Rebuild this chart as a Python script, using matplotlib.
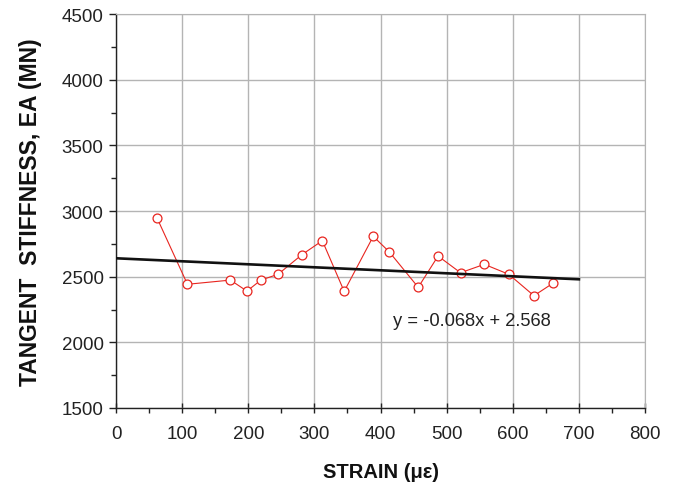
import matplotlib.pyplot as plt
from matplotlib.ticker import MultipleLocator

plt.rcParams['font.family'] = ['Liberation Sans', 'DejaVu Sans']

# tangent stiffness readings vs strain
strain = [62, 108, 173, 198, 219, 245, 281, 312, 345, 389, 413,
          457, 487, 521, 557, 594, 632, 661]
stiffness = [2947, 2442, 2474, 2390, 2474, 2518, 2667, 2774, 2388, 2807, 2690,
             2419, 2657, 2530, 2594, 2518, 2355, 2451]

# linear trend
trend_x = [0, 700]
trend_y = [2640, 2480]
trend_label = 'y = -0.068x + 2.568'

fig = plt.figure(figsize=(6.75, 4.89), dpi=100)
ax = fig.add_axes([0.1719, 0.1636, 0.7837, 0.8057])

ax.plot(strain, stiffness, color='#e8251f', lw=0.8, marker='o', ms=6.4,
        mfc='white', mec='#e8251f', mew=0.9, zorder=3)
ax.plot(trend_x, trend_y, color='#111111', lw=1.9, zorder=4)
ax.text(419, 2165, trend_label, fontsize=13.2, va='center', ha='left',
        color='#222222')

ax.set_xlim(0, 800)
ax.set_ylim(1500, 4500)
ax.xaxis.set_major_locator(MultipleLocator(100))
ax.xaxis.set_minor_locator(MultipleLocator(50))
ax.yaxis.set_major_locator(MultipleLocator(500))
ax.yaxis.set_minor_locator(MultipleLocator(250))

ax.grid(True, which='major', color='#b4b4b4', lw=1.0)
ax.set_axisbelow(True)
for s in ['top', 'right']:
    ax.spines[s].set_color('#b4b4b4')
for s in ['left', 'bottom']:
    ax.spines[s].set_color('#222222')
    ax.spines[s].set_linewidth(1.0)

ax.tick_params(which='both', width=1.0, colors='#222222', labelsize=13.5)
ax.tick_params(axis='y', which='major', direction='out', length=5, pad=4)
ax.tick_params(axis='y', which='minor', direction='out', length=3.5)
ax.tick_params(axis='x', which='major', direction='inout', length=7, pad=9)
ax.tick_params(axis='x', which='minor', direction='out', length=3.5)

ax.set_xlabel('STRAIN (με)', fontsize=14.5, fontweight='bold', labelpad=14,
              color='#111111')
ax.set_ylabel('TANGENT  STIFFNESS, EA (MN)', fontsize=16.5, fontweight='bold',
              labelpad=14, color='#111111')

fig.savefig('out.png', dpi=100)
